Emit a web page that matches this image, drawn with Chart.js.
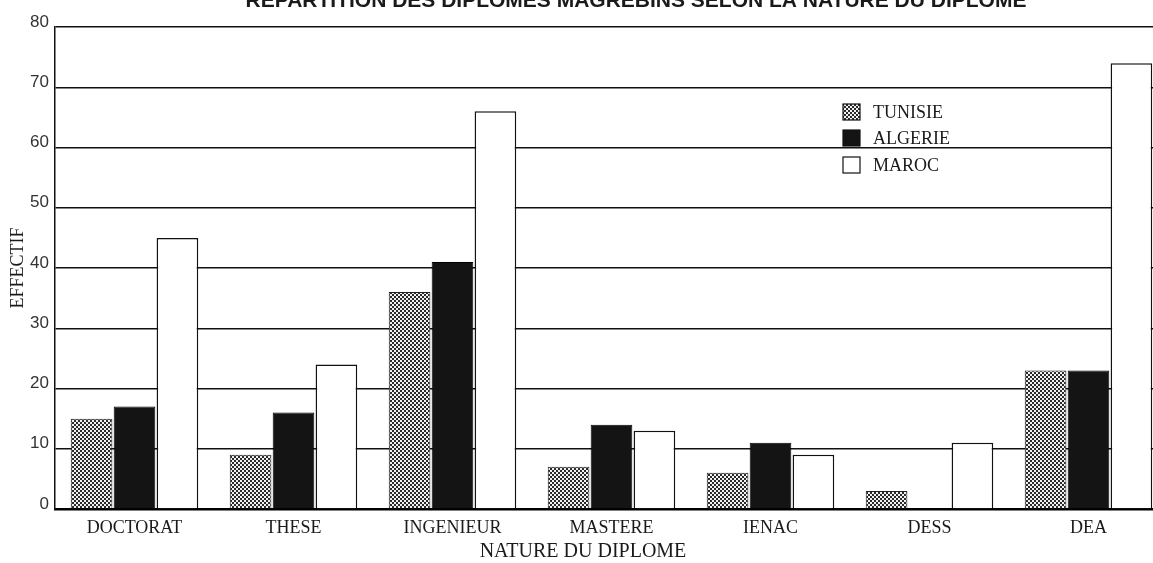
<!DOCTYPE html>
<html>
<head>
<meta charset="utf-8">
<title>Repartition des diplomes</title>
<script src="https://cdn.jsdelivr.net/npm/chart.js"></script>
<style>
  html, body { margin: 0; padding: 0; background: #fff; overflow: hidden; }
  #wrap { position: absolute; left: 0; top: -14px; }
</style>
</head>
<body>
<div id="wrap">
  <canvas id="diplomeChart" width="1190" height="577"></canvas>
</div>
<script>
// data
const categories = ['DOCTORAT', 'THESE', 'INGENIEUR', 'MASTERE', 'IENAC', 'DESS', 'DEA']
const tunisie = [15, 9, 36, 7, 6, 3, 23]
const algerie = [17, 16, 41, 14, 11, 0, 23]
const maroc = [45, 24, 66, 13, 9, 11, 74]
const yTicks = [0, 10, 20, 30, 40, 50, 60, 70, 80]

const mainTitle = 'REPARTITION DES DIPLOMES MAGREBINS SELON LA NATURE DU DIPLOME'
const xTitle = 'NATURE DU DIPLOME'
const yTitle = 'EFFECTIF'

// little checkerboard for the Tunisie bars
function makeChecker() {
    const c = document.createElement('canvas')
    c.width = 4
    c.height = 4
    const g = c.getContext('2d')
    g.fillStyle = '#f2f2f2'
    g.fillRect(0, 0, 4, 4)
    g.fillStyle = '#2a2a2a'
    g.fillRect(0, 0, 2, 2)
    g.fillRect(2, 2, 2, 2)
    return g.createPattern(c, 'repeat')
}

const canvas = document.getElementById('diplomeChart')
const checker = makeChecker()

// title, x title and legend are placed by hand (offset = -14px of the wrapper)
const extraText = {
    id: 'extraText',
    afterDraw(chart) {
        const ctx = chart.ctx
        ctx.save()
        ctx.fillStyle = '#1a1a1a'
        ctx.textAlign = 'center'
        ctx.textBaseline = 'alphabetic'
        ctx.font = "bold 21px 'Liberation Sans', Arial, sans-serif"
        ctx.fillText(mainTitle, 636, 21)

        ctx.textBaseline = 'middle'
        ctx.font = "20px 'Liberation Serif', 'Times New Roman', serif"
        ctx.fillText(xTitle, 583, 566)

        // legend
        ctx.textAlign = 'left'
        ctx.font = "18px 'Liberation Serif', 'Times New Roman', serif"
        const rows = [126, 152, 179]
        chart.data.datasets.forEach((ds, i) => {
            const y = rows[i]
            ctx.fillStyle = ds.backgroundColor
            ctx.fillRect(843, y - 8, 17, 16)
            ctx.strokeStyle = '#111'
            ctx.lineWidth = 1.2
            ctx.strokeRect(843, y - 8, 17, 16)
            ctx.fillStyle = '#1a1a1a'
            ctx.fillText(ds.label, 873, y + 1)
        })
        ctx.restore()
    }
}

new Chart(canvas, {
    type: 'bar',
    data: {
        labels: categories,
        datasets: [{
            label: 'TUNISIE',
            data: tunisie,
            backgroundColor: checker,
            borderColor: '#222',
            borderWidth: 1
        }, {
            label: 'ALGERIE',
            data: algerie,
            backgroundColor: '#141414',
            borderColor: '#000',
            borderWidth: 1
        }, {
            label: 'MAROC',
            data: maroc,
            backgroundColor: '#ffffff',
            borderColor: '#111',
            borderWidth: 1.5
        }]
    },
    options: {
        responsive: false,
        animation: false,
        layout: {
            padding: { left: 0, top: 41, right: 22, bottom: 0 }
        },
        datasets: {
            bar: {
                categoryPercentage: 0.81,
                barPercentage: 0.97
            }
        },
        plugins: {
            legend: { display: false },
            title: { display: false },
            tooltip: { enabled: false }
        },
        scales: {
            x: {
                grid: { display: false },
                border: { display: true, color: '#000', width: 2.5 },
                ticks: {
                    color: '#1a1a1a',
                    padding: 0,
                    maxRotation: 0,
                    autoSkip: false,
                    font: { family: "'Liberation Serif', 'Times New Roman', serif", size: 18 }
                },
                afterFit: scale => { scale.height = 54 }
            },
            y: {
                min: 0,
                max: 80,
                afterBuildTicks: scale => {
                    scale.ticks = yTicks.map(v => ({ value: v }))
                },
                grid: {
                    color: '#111',
                    lineWidth: 1.5,
                    drawTicks: false
                },
                border: { display: true, color: '#111', width: 1.5 },
                ticks: {
                    color: '#333',
                    padding: 6,
                    labelOffset: -5,
                    font: { family: "'Liberation Sans', Arial, sans-serif", size: 17 }
                },
                title: {
                    display: true,
                    text: yTitle,
                    color: '#1a1a1a',
                    padding: { top: 7, bottom: 0 },
                    font: { family: "'Liberation Serif', 'Times New Roman', serif", size: 18 }
                },
                afterFit: scale => { scale.width = 55 }
            }
        }
    },
    plugins: [extraText]
})
</script>
</body>
</html>
